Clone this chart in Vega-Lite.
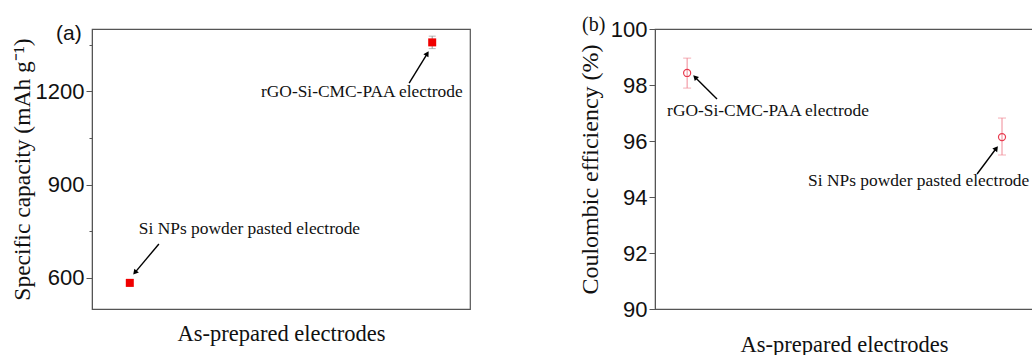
{
  "$schema": "https://vega.github.io/schema/vega-lite/v6.json",
  "background": "white",
  "padding": {"left": 9, "top": 14, "right": 0, "bottom": 0},
  "spacing": 106,
  "config": {
    "view": {"stroke": "#555", "strokeWidth": 1.2},
    "font": "Liberation Serif",
    "axis": {
      "labelFont": "Liberation Sans",
      "labelFontSize": 22,
      "labelColor": "#111",
      "titleFont": "Liberation Serif",
      "titleFontSize": 23.5,
      "titleFontWeight": "normal",
      "titleColor": "#111",
      "domainColor": "#555",
      "tickColor": "#555",
      "grid": false,
      "labelOverlap": false
    },
    "title": {"fontWeight": "normal", "anchor": "start", "color": "#111", "frame": "group"}
  },
  "hconcat": [
    {
      "width": 378,
      "height": 280,
      "title": {"text": "(a)", "font": "Liberation Sans", "fontSize": 21, "frame": "group", "offset": 0, "dx": -36, "dy": 15},
      "data": {
        "values": [
          {"electrode": "Si NPs powder pasted electrode", "pos": 0.1, "cap": 584, "lo": 573, "hi": 595, "labelX": 0.124, "labelY": 757, "tailX": 0.177, "tailY": 709, "headX": 0.1135, "headY": 617, "angle": 220},
          {"electrode": "rGO-Si-CMC-PAA electrode", "pos": 0.9, "cap": 1357, "lo": 1337, "hi": 1377, "labelX": 0.447, "labelY": 1197, "tailX": 0.839, "tailY": 1226, "headX": 0.887, "headY": 1321, "angle": 32}
        ]
      },
      "layer": [
        {
          "mark": {"type": "errorbar", "ticks": {"size": 7}, "color": "#999", "thickness": 1},
          "encoding": {
            "x": {"field": "pos", "type": "quantitative", "title": "As-prepared electrodes", "scale": {"domain": [0, 1], "nice": false, "zero": false}},
            "y": {"field": "lo", "type": "quantitative", "title": "Specific capacity (mAh g⁻¹)", "scale": {"domain": [500, 1400], "nice": false, "zero": false}},
            "y2": {"field": "hi"}
          }
        },
        {
          "mark": {"type": "square", "filled": true, "size": 64, "color": "#f00000", "opacity": 1},
          "encoding": {
            "x": {"field": "pos", "type": "quantitative", "scale": {"domain": [0, 1], "nice": false, "zero": false},
              "axis": {"title": "As-prepared electrodes", "titleFontSize": 22.5, "labels": false, "ticks": false, "domain": false, "titlePadding": 13}},
            "y": {"field": "cap", "type": "quantitative", "scale": {"domain": [500, 1400], "nice": false, "zero": false},
              "axis": {"title": "Specific capacity (mAh g⁻¹)", "values": [600, 750, 900, 1050, 1200, 1350], "format": "d",
                "labelExpr": "datum.value % 300 === 0 ? datum.label : ''",
                "tickSize": {"condition": {"test": "datum.value % 300 === 0", "value": 6}, "value": 3},
                "labelPadding": 2, "titlePadding": 1}}
          }
        },
        {
          "mark": {"type": "text", "align": "left", "baseline": "middle", "font": "Liberation Serif", "fontSize": 17.4, "color": "#111"},
          "encoding": {
            "x": {"field": "labelX", "type": "quantitative"},
            "y": {"field": "labelY", "type": "quantitative"},
            "text": {"field": "electrode"}
          }
        },
        {
          "mark": {"type": "rule", "color": "#000", "strokeWidth": 1.4},
          "encoding": {
            "x": {"field": "tailX", "type": "quantitative"},
            "y": {"field": "tailY", "type": "quantitative"},
            "x2": {"field": "headX"},
            "y2": {"field": "headY"}
          }
        },
        {
          "mark": {"type": "point", "shape": "triangle-up", "filled": true, "size": 36, "color": "#000", "opacity": 1},
          "encoding": {
            "x": {"field": "headX", "type": "quantitative"},
            "y": {"field": "headY", "type": "quantitative"},
            "angle": {"field": "angle", "type": "quantitative", "scale": null}
          }
        }
      ]
    },
    {
      "width": 378,
      "height": 280,
      "title": {"text": "(b)", "font": "Liberation Serif", "fontSize": 20, "frame": "group", "offset": 0, "dx": -73, "dy": 17},
      "data": {
        "values": [
          {"electrode": "rGO-Si-CMC-PAA electrode", "pos": 0.085, "ce": 98.43, "lo": 97.89, "hi": 98.96, "labelX": 0.032, "labelY": 97.07, "tailX": 0.164, "tailY": 97.5, "headX": 0.106, "headY": 98.28, "angle": 315},
          {"electrode": "Si NPs powder pasted electrode", "pos": 0.918, "ce": 96.14, "lo": 95.5, "hi": 96.82, "labelX": 0.405, "labelY": 94.57, "tailX": 0.852, "tailY": 94.82, "headX": 0.903, "headY": 95.74, "angle": 37}
        ]
      },
      "layer": [
        {
          "mark": {"type": "errorbar", "ticks": {"size": 8}, "color": "#f08a96", "thickness": 1},
          "encoding": {
            "x": {"field": "pos", "type": "quantitative", "title": "As-prepared electrodes", "scale": {"domain": [0, 1], "nice": false, "zero": false}},
            "y": {"field": "lo", "type": "quantitative", "title": "Coulombic efficiency (%)", "scale": {"domain": [90, 100], "nice": false, "zero": false}},
            "y2": {"field": "hi"}
          }
        },
        {
          "mark": {"type": "point", "shape": "circle", "filled": false, "size": 50, "strokeWidth": 1.2, "color": "#e83b4f", "opacity": 1},
          "encoding": {
            "x": {"field": "pos", "type": "quantitative", "scale": {"domain": [0, 1], "nice": false, "zero": false},
              "axis": {"title": "As-prepared electrodes", "titleFontSize": 22.5, "labels": false, "ticks": false, "domain": false, "titlePadding": 24}},
            "y": {"field": "ce", "type": "quantitative", "scale": {"domain": [90, 100], "nice": false, "zero": false},
              "axis": {"title": "Coulombic efficiency (%)", "titleFontSize": 24, "values": [90, 91, 92, 93, 94, 95, 96, 97, 98, 99, 100],
                "labelExpr": "datum.value % 2 === 0 ? datum.label : ''",
                "tickSize": {"condition": {"test": "datum.value % 2 === 0", "value": 6}, "value": 3},
                "labelPadding": 2, "titlePadding": 8}}
          }
        },
        {
          "mark": {"type": "text", "align": "left", "baseline": "middle", "font": "Liberation Serif", "fontSize": 17.4, "color": "#111"},
          "encoding": {
            "x": {"field": "labelX", "type": "quantitative"},
            "y": {"field": "labelY", "type": "quantitative"},
            "text": {"field": "electrode"}
          }
        },
        {
          "mark": {"type": "rule", "color": "#000", "strokeWidth": 1.4},
          "encoding": {
            "x": {"field": "tailX", "type": "quantitative"},
            "y": {"field": "tailY", "type": "quantitative"},
            "x2": {"field": "headX"},
            "y2": {"field": "headY"}
          }
        },
        {
          "mark": {"type": "point", "shape": "triangle-up", "filled": true, "size": 36, "color": "#000", "opacity": 1},
          "encoding": {
            "x": {"field": "headX", "type": "quantitative"},
            "y": {"field": "headY", "type": "quantitative"},
            "angle": {"field": "angle", "type": "quantitative", "scale": null}
          }
        }
      ]
    }
  ]
}
